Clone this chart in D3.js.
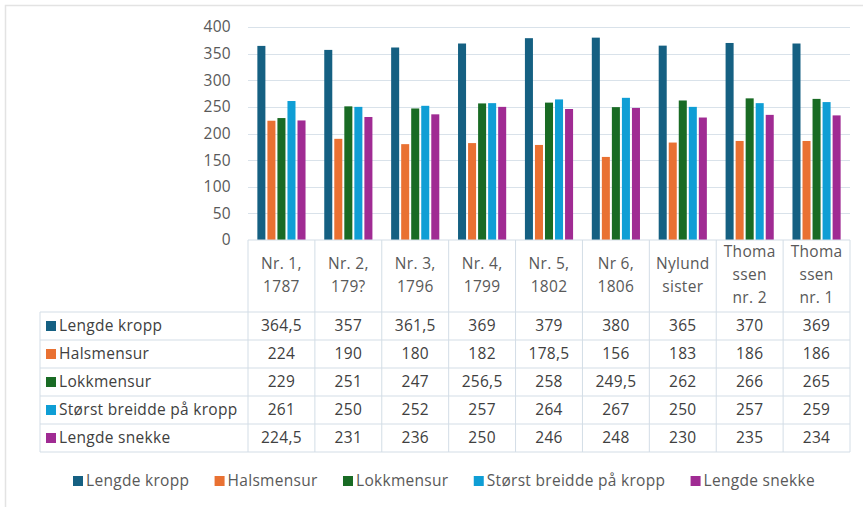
<!DOCTYPE html>
<html lang="no">
<head>
<meta charset="utf-8">
<title>Mål</title>
<script src="https://cdn.jsdelivr.net/npm/d3@7"></script>
<style>
  body { margin: 0; background: #fff; }
  text { font-family: "Open Sans", "Noto Sans", sans-serif; letter-spacing: 0.3px; }
</style>
</head>
<body>
<script>
    var w = 867;
    var h = 507;

    // chart data
    var categories = ["Nr. 1,|1787", "Nr. 2,|179?", "Nr. 3,|1796", "Nr. 4,|1799", "Nr. 5,|1802",
                      "Nr 6,|1806", "Nylund|sister", "Thoma|ssen|nr. 2", "Thoma|ssen|nr. 1"];
    var seriesNames = ["Lengde kropp", "Halsmensur", "Lokkmensur", "Størst breidde på kropp", "Lengde snekke"];
    var lengdeKropp = [364.5, 357, 361.5, 369, 379, 380, 365, 370, 369];
    var halsmensur = [224, 190, 180, 182, 178.5, 156, 183, 186, 186];
    var lokkmensur = [229, 251, 247, 256.5, 258, 249.5, 262, 266, 265];
    var storstBreidde = [261, 250, 252, 257, 264, 267, 250, 257, 259];
    var lengdeSnekke = [224.5, 231, 236, 250, 246, 248, 230, 235, 234];
    var yTicks = [0, 50, 100, 150, 200, 250, 300, 350, 400];
    var colors = ["#156082", "#E97132", "#196B24", "#0F9ED5", "#A02B93"];

    var values = [lengdeKropp, halsmensur, lokkmensur, storstBreidde, lengdeSnekke];

    var plotLeft = 248, plotRight = 850, plotTop = 27, plotBase = 240;
    var tableLeft = 40, headBottom = 312, rowH = 28;
    var fs = 15.5;

    var svg = d3.select("body").append("svg")
        .attr("width", w).attr("height", h);

    // frame
    svg.append("path")
        .attr("d", "M5.5," + h + "V5.5H" + (w - 4))
        .attr("fill", "none").attr("stroke", "#e3e3e3").attr("stroke-width", 1.5);

    var x0 = d3.scaleBand().domain(d3.range(categories.length)).range([plotLeft, plotRight]);
    var x1 = d3.scaleBand().domain(d3.range(seriesNames.length))
        .range([0, x0.bandwidth() * 0.72]).paddingInner(0.2);
    var y = d3.scaleLinear().domain([0, 400]).range([plotBase, plotTop]);

    // gridlines
    svg.append("g").selectAll("line").data(yTicks.slice(1)).enter().append("line")
        .attr("x1", plotLeft).attr("x2", plotRight)
        .attr("y1", function(d) { return Math.round(y(d)) + 0.5; })
        .attr("y2", function(d) { return Math.round(y(d)) + 0.5; })
        .attr("stroke", "#d9e2ea").attr("stroke-width", 1);

    // y axis labels
    svg.append("g").selectAll("text").data(yTicks).enter().append("text")
        .attr("x", 231)
        .attr("y", function(d) { return y(d); })
        .attr("dy", "0.35em")
        .attr("text-anchor", "end")
        .attr("font-size", fs)
        .attr("fill", "#595959")
        .text(function(d) { return d; });

    // bars
    var groupOff = (x0.bandwidth() - x1.range()[1]) / 2;
    values.forEach(function(vals, s) {
        svg.append("g").selectAll("rect").data(vals).enter().append("rect")
            .attr("x", function(d, i) { return x0(i) + groupOff + x1(s); })
            .attr("y", function(d) { return y(d); })
            .attr("width", x1.bandwidth())
            .attr("height", function(d) { return plotBase - y(d); })
            .attr("fill", colors[s]);
    });

    // table
    var tg = svg.append("g");
    var lineColor = "#d3dde6";
    var tableBottom = headBottom + rowH * seriesNames.length;

    // vertical lines
    d3.range(categories.length + 1).forEach(function(i) {
        var xx = i < categories.length ? x0(i) : plotRight;
        tg.append("line")
            .attr("x1", xx).attr("x2", xx)
            .attr("y1", plotBase).attr("y2", tableBottom)
            .attr("stroke", lineColor);
    });
    tg.append("line").attr("x1", tableLeft).attr("x2", tableLeft)
        .attr("y1", headBottom).attr("y2", tableBottom).attr("stroke", lineColor);
    // horizontal lines
    tg.append("line").attr("x1", plotLeft).attr("x2", plotRight)
        .attr("y1", plotBase).attr("y2", plotBase).attr("stroke", lineColor);
    d3.range(seriesNames.length + 1).forEach(function(r) {
        var yy = headBottom + r * rowH;
        tg.append("line").attr("x1", tableLeft).attr("x2", plotRight)
            .attr("y1", yy).attr("y2", yy).attr("stroke", lineColor);
    });

    // header text
    categories.forEach(function(c, i) {
        var lines = c.split("|");
        var lh = 23;
        var cy = (plotBase + headBottom) / 2 - 1;
        var t = tg.append("text")
            .attr("text-anchor", "middle")
            .attr("font-size", fs)
            .attr("fill", "#595959");
        lines.forEach(function(l, k) {
            t.append("tspan")
                .attr("x", x0(i) + x0.bandwidth() / 2)
                .attr("y", cy + (k - (lines.length - 1) / 2) * lh)
                .attr("dy", "0.35em")
                .text(l);
        });
    });

    // row labels and values
    function fmt(v) { return String(v).replace(".", ","); }
    seriesNames.forEach(function(name, s) {
        var cy = headBottom + s * rowH + rowH / 2;
        tg.append("rect")
            .attr("x", tableLeft + 6).attr("y", cy - 5)
            .attr("width", 10).attr("height", 10)
            .attr("fill", colors[s]);
        tg.append("text")
            .attr("x", tableLeft + 19).attr("y", cy).attr("dy", "0.35em")
            .attr("font-size", fs).attr("fill", "#404040")
            .text(name);
        values[s].forEach(function(v, i) {
            tg.append("text")
                .attr("x", x0(i) + x0.bandwidth() / 2).attr("y", cy).attr("dy", "0.35em")
                .attr("text-anchor", "middle")
                .attr("font-size", fs).attr("fill", "#404040")
                .text(fmt(v));
        });
    });

    // bottom legend, laid out from measured text widths
    var lg = svg.append("g");
    var items = seriesNames.map(function(name, s) {
        var g = lg.append("g");
        g.append("rect")
            .attr("x", 0).attr("y", 476)
            .attr("width", 10).attr("height", 10)
            .attr("fill", colors[s]);
        var t = g.append("text")
            .attr("x", 13).attr("y", 481).attr("dy", "0.35em")
            .attr("font-size", fs).attr("fill", "#595959")
            .text(name);
        return { g: g, w: 13 + t.node().getComputedTextLength() };
    });
    var legStart = 73, legEnd = 815;
    var gap = (legEnd - legStart - d3.sum(items, function(d) { return d.w; })) / (items.length - 1);
    var cx = legStart;
    items.forEach(function(it) {
        it.g.attr("transform", "translate(" + cx + ",0)");
        cx += it.w + gap;
    });
</script>
</body>
</html>
